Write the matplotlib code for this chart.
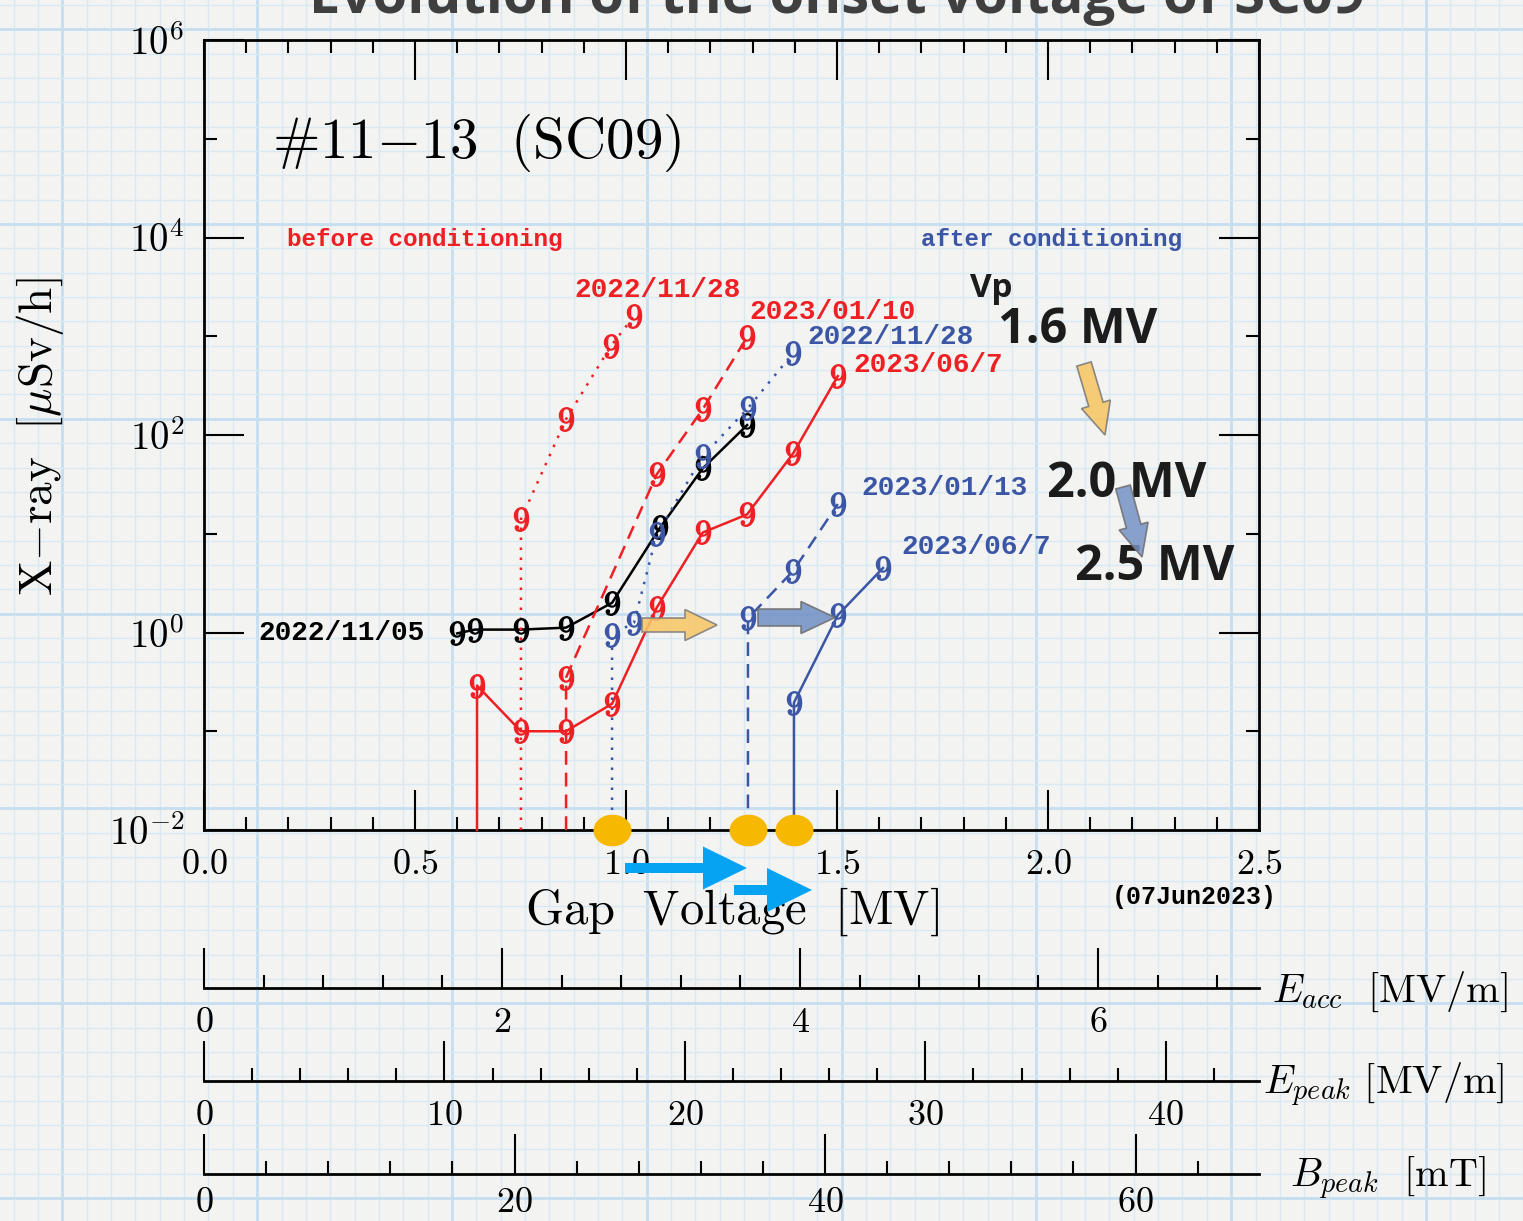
import numpy as np
import matplotlib
matplotlib.use("Agg")
import matplotlib.pyplot as plt
from matplotlib.ticker import FixedLocator, FuncFormatter, MultipleLocator, NullFormatter
from matplotlib.patches import FancyArrow
from matplotlib.path import Path
from matplotlib.transforms import Affine2D

plt.rcParams['mathtext.fontset'] = 'cm'

# ---------------- data: gap voltage [MV] vs X-ray dose rate [uSv/h] ----------------
# Series that start at the detection floor (1e-2) mark the X-ray onset voltage.
v_1105 = [0.600, 0.642, 0.751, 0.858, 0.967, 1.081, 1.182, 1.287]
x_1105 = [0.98, 1.07, 1.07, 1.12, 2.0, 11.6, 46, 126]

v_b1128 = [0.751, 0.751, 0.858, 0.964, 1.019]
x_b1128 = [0.01, 14, 145, 795, 1600]

v_b0110 = [0.858, 0.858, 1.073, 1.182, 1.287]
x_b0110 = [0.01, 0.35, 40, 183, 980]

v_b0607 = [0.647, 0.647, 0.751, 0.858, 0.967, 1.073, 1.182, 1.287, 1.396, 1.502]
x_b0607 = [0.01, 0.29, 0.10, 0.10, 0.19, 1.79, 10.3, 15.7, 65, 395]

v_a1128 = [0.967, 0.967, 1.019, 1.073, 1.182, 1.289, 1.396]
x_a1128 = [0.01, 0.95, 1.26, 9.9, 61, 187, 675]

v_a0113 = [1.289, 1.289, 1.396, 1.502]
x_a0113 = [0.01, 1.39, 4.2, 20]

v_a0607 = [1.398, 1.398, 1.502, 1.609]
x_a0607 = [0.01, 0.195, 1.5, 4.5]

# field conversions per MV of gap voltage
EACC_PER_MV = 2.832
EPEAK_PER_MV = 17.55
BPEAK_PER_MV = 27.18

vp_labels = ["1.6 MV", "2.0 MV", "2.5 MV"]

# ---------------- figure ----------------
W, H = 1523, 1221
fig = plt.figure(figsize=(W / 100, H / 100), dpi=100, facecolor='#f3f3f2')

# graph-paper background
bg = fig.add_axes([0, 0, 1, 1], zorder=-10)
bg.set_xlim(0, W)
bg.set_ylim(H, 0)
bg.axis('off')
step = 24.35
for k in range(-70, 70):
    xg = 1426 + k * step
    if -5 <= xg <= W + 5:
        if k % 8 == 0:
            bg.plot([xg, xg], [0, H], color='#c6def0', lw=2.0)
        else:
            bg.plot([xg, xg], [0, H], color='#d9e9f4', lw=1.0)
    yg = 224 + k * step
    if -5 <= yg <= H + 5:
        if k % 8 == 0:
            bg.plot([0, W], [yg, yg], color='#c6def0', lw=2.0)
        else:
            bg.plot([0, W], [yg, yg], color='#d9e9f4', lw=1.0)

# ---------------- main axes ----------------
L, R, T, B = 204, 1259, 40, 830
ax = fig.add_axes([L / W, 1 - B / H, (R - L) / W, (B - T) / H])
ax.patch.set_alpha(0)
ax.set_xlim(0, 2.5)
ax.set_yscale('log')
ax.set_ylim(1e-2, 1e6)

ax.xaxis.set_major_locator(MultipleLocator(0.5))
ax.xaxis.set_minor_locator(MultipleLocator(0.1))
ax.xaxis.set_major_formatter(FuncFormatter(lambda v, p: r'$%.1f$' % v))
ax.yaxis.set_major_locator(FixedLocator([1e-2, 1e0, 1e2, 1e4, 1e6]))
ax.yaxis.set_minor_locator(FixedLocator([1e-1, 1e1, 1e3, 1e5]))
ax.yaxis.set_minor_formatter(NullFormatter())
ax.yaxis.set_major_formatter(FuncFormatter(lambda v, p: r'$10^{%d}$' % round(np.log10(v))))
ax.tick_params(which='both', direction='in', top=True, right=True, width=1.5, color='black')
ax.tick_params(which='major', length=28.8, labelsize=26, pad=12)
ax.tick_params(axis='y', which='major', labelsize=28, pad=14)
ax.tick_params(which='minor', length=9.5)
for s in ax.spines.values():
    s.set_linewidth(2.0)

RED = '#ee2024'
BLUE = '#3c56a6'
BLACK = '#000000'
DOT = (0, (1, 3))
DASH = (0, (5.5, 3.2))


def series(v, x, color, ls, onset):
    ax.plot(v, x, color=color, ls=ls, lw=1.8, zorder=3, clip_on=False)
    s = 1 if onset else 0
    ax.plot(v[s:], x[s:], ls='none', marker='$9$', ms=17, mfc=color, mec=color,
            mew=0.9, zorder=4, clip_on=False)


series(v_1105, x_1105, BLACK, '-', False)
series(v_b1128, x_b1128, RED, DOT, True)
series(v_b0110, x_b0110, RED, DASH, True)
series(v_b0607, x_b0607, RED, '-', True)
series(v_a1128, x_a1128, BLUE, DOT, True)
series(v_a0113, x_a0113, BLUE, DASH, True)
series(v_a0607, x_a0607, BLUE, '-', True)

# onset voltages after conditioning, marked on the voltage axis
onsets = [v_a1128[0], v_a0113[0], v_a0607[0]]
ell = Path.unit_circle().transformed(Affine2D().scale(1.2, 1.0))
ax.scatter(onsets, [1e-2] * len(onsets), marker=ell, s=750, c='#f6b800',
           linewidths=0, zorder=8, clip_on=False)

# ---------------- text annotations ----------------
mono = dict(family='Liberation Mono', weight='bold')
ax.text(0.161, 9.06e4, r'$\#11{-}13\ \ (\mathrm{SC09})$', fontsize=41, va='center', ha='left')
ax.text(0.197, 9.44e3, 'before conditioning', color=RED, fontsize=17.5, va='center', **mono)
ax.text(1.699, 9.44e3, 'after conditioning', color=BLUE, fontsize=17.5, va='center', **mono)
ax.text(0.877, 2940, '2022/11/28', color=RED, fontsize=20, va='center', **mono)
ax.text(1.292, 1763, '2023/01/10', color=RED, fontsize=20, va='center', **mono)
ax.text(1.429, 977, '2022/11/28', color=BLUE, fontsize=20, va='center', **mono)
ax.text(1.538, 512, '2023/06/7', color=RED, fontsize=20, va='center', **mono)
ax.text(1.557, 29, '2023/01/13', color=BLUE, fontsize=20, va='center', **mono)
ax.text(1.652, 7.3, '2023/06/7', color=BLUE, fontsize=20, va='center', **mono)
ax.text(0.128, 0.99, '2022/11/05', color=BLACK, fontsize=20, va='center', **mono)

bold_sans = dict(family='Open Sans', weight='bold', color='#1c1c1c')
ax.text(1.815, 2495, 'Vp', fontsize=24, va='baseline', **bold_sans)
ax.text(1.882, 855, vp_labels[0], fontsize=35, va='baseline', **bold_sans)
ax.text(1.998, 23.6, vp_labels[1], fontsize=35, va='baseline', **bold_sans)
ax.text(2.064, 3.40, vp_labels[2], fontsize=35, va='baseline', **bold_sans)

ax.text(0.5, (B - 912) / (B - T), r'$\mathrm{Gap\ \ Voltage\ \ [MV]}$', transform=ax.transAxes,
        fontsize=35, ha='center', va='center')
ax.text((40 - L) / (R - L), (B - 437) / (B - T), r'$\mathrm{X{-}ray}\ \ [\mu\mathrm{Sv/h}]$',
        transform=ax.transAxes, fontsize=34, ha='center', va='center', rotation=90)
ax.text((1194 - L) / (R - L), (B - 897) / (B - T), '(07Jun2023)', transform=ax.transAxes,
        fontsize=18, ha='center', va='center', **mono)

fig.text(837.5 / W, 1 - 13 / H, 'Evolution of the onset voltage of SC09', ha='center',
         va='baseline', fontsize=40.5, family='Open Sans', weight='bold', color='#3f3f3f')


# ---------------- field scales below ----------------
def scale_axis(y_px, factor, major, minor, label, lx_px, pad):
    a = fig.add_axes([L / W, 1 - y_px / H, (R - L) / W, 0.002])
    a.patch.set_alpha(0)
    for s in ('top', 'left', 'right'):
        a.spines[s].set_visible(False)
    a.spines['bottom'].set_linewidth(2.0)
    a.set_yticks([])
    a.set_xlim(0, 2.5 * factor)
    a.xaxis.set_major_locator(MultipleLocator(major))
    a.xaxis.set_minor_locator(MultipleLocator(minor))
    a.xaxis.set_major_formatter(FuncFormatter(lambda v, p: r'$%g$' % v))
    a.tick_params(which='both', direction='in', width=1.5)
    a.tick_params(which='major', length=28.8, labelsize=26, pad=pad)
    a.tick_params(which='minor', length=9.5)
    fig.text(lx_px / W, 1 - (y_px + 4) / H, label, fontsize=29, ha='left', va='center')
    return a


scale_axis(988, EACC_PER_MV, 2, 0.4, r'$E_{acc}\ \ [\mathrm{MV/m}]$', 1272, 12)
scale_axis(1081, EPEAK_PER_MV, 10, 2, r'$E_{peak}\ [\mathrm{MV/m}]$', 1263, 12)
scale_axis(1174, BPEAK_PER_MV, 20, 4, r'$B_{peak}\ \ [\mathrm{mT}]$', 1290, 8)

# ---------------- arrows on top ----------------
ov = fig.add_axes([0, 0, 1, 1], zorder=20)
ov.set_xlim(0, W)
ov.set_ylim(H, 0)
ov.axis('off')


def arrow(x0, y0, x1, y1, w, hw, hl, fc, ec='none', alpha=1.0):
    ov.add_patch(FancyArrow(x0, y0, x1 - x0, y1 - y0, width=w, head_width=hw, head_length=hl,
                            length_includes_head=True, fc=fc, ec=ec, lw=1.2, alpha=alpha))


arrow(642, 625, 717, 625, 14, 31, 32, '#f7c767', '#7d7d7d', 0.88)
arrow(758, 617.5, 835, 617.5, 17, 32, 34, '#7592c6', '#6f6f6f', 0.88)
arrow(1084, 364, 1105, 435, 15, 30, 32, '#f7c767', '#7d7d7d', 0.9)
arrow(1123, 487, 1142, 557, 15, 30, 32, '#7592c6', '#6f6f6f', 0.85)
arrow(625, 868, 747, 868, 10, 43, 44, '#07a3f3')
arrow(734, 890, 812, 890, 10, 44, 45, '#07a3f3')

fig.savefig('out.png', dpi=100, facecolor=fig.get_facecolor())
